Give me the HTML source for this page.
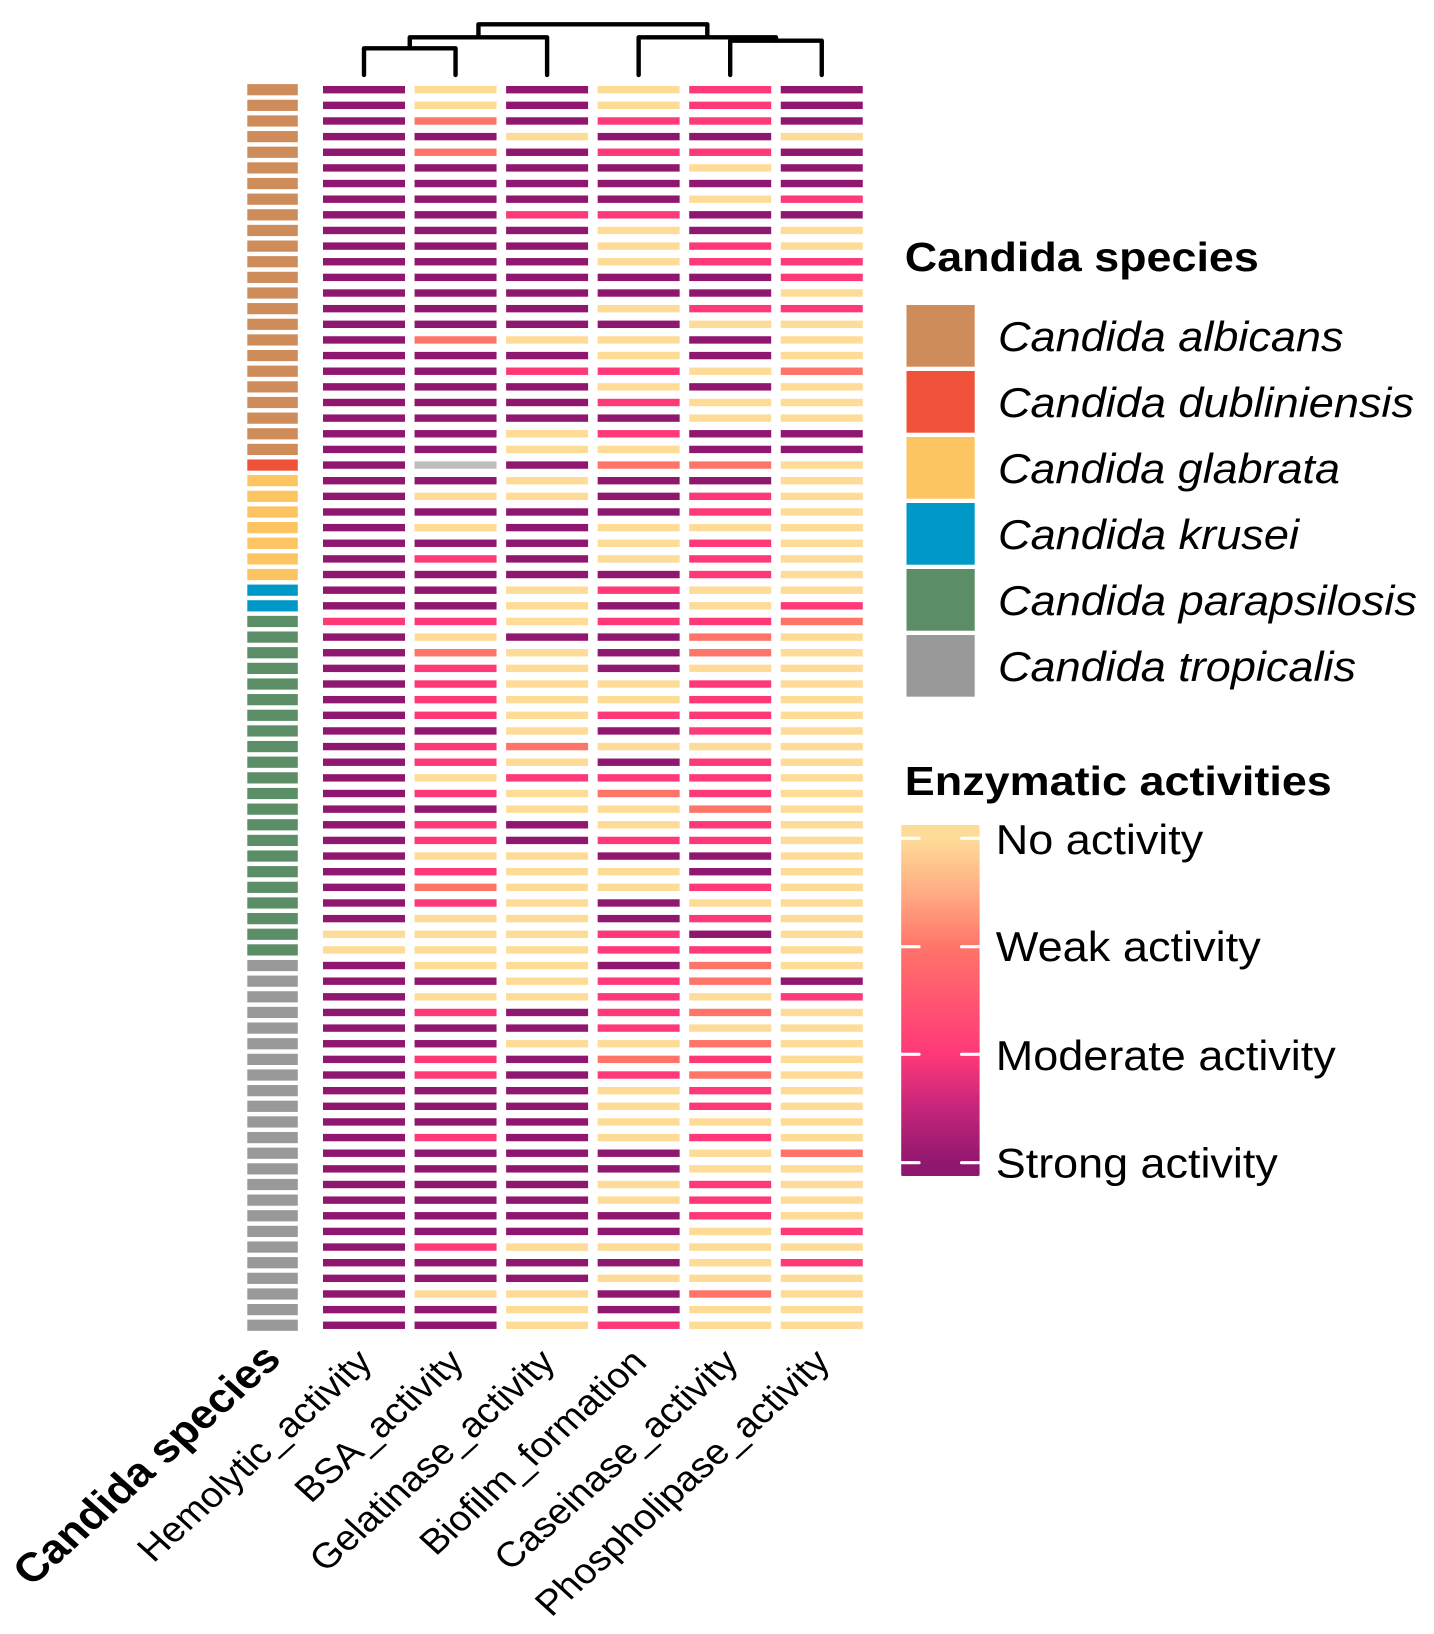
<!DOCTYPE html>
<html>
<head>
<meta charset="utf-8">
<title>Candida enzymatic activity heatmap</title>
<style>
html,body{margin:0;padding:0;background:#fff;width:1434px;height:1634px;overflow:hidden}
svg{display:block;font-family:"Liberation Sans",Arial,sans-serif}
</style>
</head>
<body>
<svg id="chart" xmlns="http://www.w3.org/2000/svg" width="1434" height="1634" viewBox="0 0 1434 1634">
  <defs>
    <linearGradient id="activity-gradient" x1="0" y1="825" x2="0" y2="1176" gradientUnits="userSpaceOnUse">
      <stop offset="0" stop-color="#FEDC97"/>
      <stop offset="0.038" stop-color="#FEDC97"/>
      <stop offset="0.2" stop-color="#FFA982"/>
      <stop offset="0.347" stop-color="#FF7469"/>
      <stop offset="0.654" stop-color="#FF3878"/>
      <stop offset="0.8" stop-color="#C7267A"/>
      <stop offset="0.962" stop-color="#90176F"/>
      <stop offset="1" stop-color="#90176F"/>
    </linearGradient>
  </defs>
  <g id="dendrogram"></g>
  <g id="annotation"></g>
  <g id="heatmap"></g>
  <g id="column-labels"></g>

  <g>
    <text x="904.8" y="271" font-size="41" font-weight="bold" textLength="354" lengthAdjust="spacingAndGlyphs">Candida species</text>
    <rect x="906.5" y="305" width="68.2" height="61.7" fill="#CE8C5B"/>
    <rect x="906.5" y="371" width="68.2" height="61.7" fill="#EF5238"/>
    <rect x="906.5" y="437" width="68.2" height="61.7" fill="#FDC462"/>
    <rect x="906.5" y="503" width="68.2" height="61.7" fill="#0098C6"/>
    <rect x="906.5" y="569" width="68.2" height="61.7" fill="#5B8D67"/>
    <rect x="906.5" y="635" width="68.2" height="61.7" fill="#999999"/>
    <g font-size="42" font-style="italic">
      <text x="998" y="351" textLength="345.5" lengthAdjust="spacingAndGlyphs">Candida albicans</text>
      <text x="998" y="417" textLength="416" lengthAdjust="spacingAndGlyphs">Candida dubliniensis</text>
      <text x="998" y="483" textLength="342" lengthAdjust="spacingAndGlyphs">Candida glabrata</text>
      <text x="998" y="549" textLength="301" lengthAdjust="spacingAndGlyphs">Candida krusei</text>
      <text x="998" y="615" textLength="419" lengthAdjust="spacingAndGlyphs">Candida parapsilosis</text>
      <text x="998" y="681" textLength="358" lengthAdjust="spacingAndGlyphs">Candida tropicalis</text>
    </g>
  </g>

  <g>
    <text x="904.8" y="795" font-size="41" font-weight="bold" textLength="427" lengthAdjust="spacingAndGlyphs">Enzymatic activities</text>
    <rect x="901.2" y="825" width="78.4" height="351" rx="1.5" fill="url(#activity-gradient)"/>
    <g stroke="#fff" stroke-width="3.2" stroke-linecap="round">
      <line x1="901.2" x2="919" y1="838.3" y2="838.3"/>
      <line x1="961.6" x2="979.6" y1="838.3" y2="838.3"/>
      <line x1="901.2" x2="919" y1="946.7" y2="946.7"/>
      <line x1="961.6" x2="979.6" y1="946.7" y2="946.7"/>
      <line x1="901.2" x2="919" y1="1054.3" y2="1054.3"/>
      <line x1="961.6" x2="979.6" y1="1054.3" y2="1054.3"/>
      <line x1="901.2" x2="919" y1="1162.7" y2="1162.7"/>
      <line x1="961.6" x2="979.6" y1="1162.7" y2="1162.7"/>
    </g>
    <g font-size="42">
      <text x="995.8" y="853.8" textLength="207.5" lengthAdjust="spacingAndGlyphs">No activity</text>
      <text x="995.8" y="961" textLength="265" lengthAdjust="spacingAndGlyphs">Weak activity</text>
      <text x="995.8" y="1069.8" textLength="340" lengthAdjust="spacingAndGlyphs">Moderate activity</text>
      <text x="995.8" y="1177.5" textLength="282" lengthAdjust="spacingAndGlyphs">Strong activity</text>
    </g>
  </g>
</svg>
<script>
// ---- data ----
const columnNames = ["Hemolytic_activity","BSA_activity","Gelatinase_activity","Biofilm_formation","Caseinase_activity","Phospholipase_activity"];
const speciesNames = ["albicans","dubliniensis","glabrata","krusei","parapsilosis","tropicalis"];
const speciesCounts = [24,1,7,2,22,24];
// level per isolate and column: 0 none, 1 weak, 2 moderate, 3 strong, null missing
const activityRows = [
[3,0,3,0,2,3],[3,0,3,0,2,3],[3,1,3,2,2,3],[3,3,0,3,3,0],[3,1,3,2,2,3],[3,3,3,3,0,3],[3,3,3,3,3,3],[3,3,3,3,0,2],
[3,3,2,2,3,3],[3,3,3,0,3,0],[3,3,3,0,2,0],[3,3,3,0,2,2],[3,3,3,3,3,2],[3,3,3,3,3,0],[3,3,3,0,2,2],[3,3,3,3,0,0],
[3,1,0,0,3,0],[3,3,3,0,3,0],[3,3,2,2,0,1],[3,3,3,0,3,0],[3,3,3,2,0,0],[3,3,3,3,0,0],[3,3,0,2,3,3],[3,3,0,0,3,3],
[3,null,3,1,1,0],
[3,3,0,3,3,0],[3,0,0,3,2,0],[3,3,3,3,2,0],[3,0,3,0,0,0],[3,3,3,0,2,0],[3,2,3,0,2,0],[3,3,3,3,2,0],
[3,3,0,2,0,0],[3,3,0,3,0,2],
[2,2,0,2,2,1],[3,0,3,3,1,0],[3,1,0,3,1,0],[3,2,0,3,0,0],[3,2,0,0,2,0],[3,2,0,0,2,0],[3,2,0,2,2,0],[3,3,0,3,2,0],
[3,2,1,0,0,0],[3,2,0,3,2,0],[3,0,2,2,2,0],[3,2,0,1,2,0],[3,3,0,0,1,0],[3,2,3,0,2,0],[3,2,3,2,2,0],[3,0,0,3,3,0],
[3,2,0,0,3,0],[3,1,0,0,2,0],[3,2,0,3,0,0],[3,0,0,3,2,0],[0,0,0,2,3,0],[0,0,0,2,2,0],
[3,0,0,3,1,0],[3,3,0,2,1,3],[3,0,0,2,0,2],[3,2,3,2,1,0],[3,3,3,2,0,0],[3,3,0,0,1,0],[3,2,3,1,2,0],[3,2,3,2,1,0],
[3,3,3,0,2,0],[3,3,3,0,2,0],[3,3,3,0,0,0],[3,2,3,0,2,0],[3,3,3,3,0,1],[3,3,3,3,0,0],[3,3,3,0,2,0],[3,3,3,0,2,0],
[3,3,3,3,2,0],[3,3,3,3,0,2],[3,2,0,0,0,0],[3,3,3,3,0,2],[3,3,3,0,0,0],[3,0,0,3,1,0],[3,3,0,3,0,0],[3,3,0,2,0,0]
];
// dendrogram merges: child node ids (0-5 leaves, 6+ earlier merges) and merge heights
const mergeLeft = [0,6,4,3,7];
const mergeRight = [1,2,5,8,9];
const mergeHeight = [26.7,37.7,34.3,37.7,50.7];

// ---- palette and axis functions ----
const levelColors = ["#FEDC97","#FF7469","#FF3878","#90176F"];
const missingColor = "#BEBEBE";
const speciesColors = ["#CE8C5B","#EF5238","#FDC462","#0098C6","#5B8D67","#999999"];
const svgNS = "http://www.w3.org/2000/svg";
const xCol = function (j) { return 323 + j * 91.55; };
const colWidth = 82;
const yRow = function (i) { return 89.7 + i * 15.64; };
const yDendro = function (h) { return 75 - h; };

function addNode(parent, tag, attrs) {
  const el = document.createElementNS(svgNS, tag);
  for (const k in attrs) el.setAttribute(k, attrs[k]);
  parent.appendChild(el);
  return el;
}

// ---- heatmap cells ----
const heatmapGroup = document.getElementById("heatmap");
activityRows.forEach(function (row, i) {
  row.forEach(function (level, j) {
    const cell = addNode(heatmapGroup, "rect", {
      x: xCol(j), y: yRow(i) - 3.7, width: colWidth, height: 7.4,
      fill: level === null ? missingColor : levelColors[level]
    });
    
    
  });
});

// ---- species annotation column ----
const annotationGroup = document.getElementById("annotation");
let rowIndex = 0;
speciesCounts.forEach(function (count, s) {
  for (let n = 0; n < count; n++) {
    const bar = addNode(annotationGroup, "rect", {
      x: 247.3, y: yRow(rowIndex) - 5.6, width: 50.5, height: 11.2, fill: speciesColors[s]
    });
    
    
    rowIndex++;
  }
});

// ---- dendrogram ----
const dendroGroup = document.getElementById("dendrogram");
const nodeX = columnNames.map(function (_, j) { return xCol(j) + colWidth / 2; });
const nodeY = columnNames.map(function () { return yDendro(0); });
mergeLeft.forEach(function (left, m) {
  const right = mergeRight[m];
  const y = yDendro(mergeHeight[m]);
  const d = "M" + nodeX[left] + " " + nodeY[left] + "V" + y + "H" + nodeX[right] + "V" + nodeY[right];
  const branch = addNode(dendroGroup, "path", {
    d: d, fill: "none", stroke: "#000", "stroke-width": 4.4, "stroke-linecap": "round", "stroke-linejoin": "round"
  });
  
  
  nodeX.push((nodeX[left] + nodeX[right]) / 2);
  nodeY.push(y);
});

// ---- rotated column labels ----
const labelGroup = document.getElementById("column-labels");
const annotationTitle = addNode(labelGroup, "text", {
  transform: "translate(283,1361) scale(1.11,1) rotate(-45)",
  "text-anchor": "end", "font-size": 40.6, "font-weight": "bold"
});
annotationTitle.textContent = "Candida species";


columnNames.forEach(function (name, j) {
  const label = addNode(labelGroup, "text", {
    transform: "translate(" + (374 + j * 91.55) + ",1364) scale(1.105,1) rotate(-45)",
    "text-anchor": "end", "font-size": 35.3
  });
  label.textContent = name;
  
  
});
</script>
</body>
</html>
